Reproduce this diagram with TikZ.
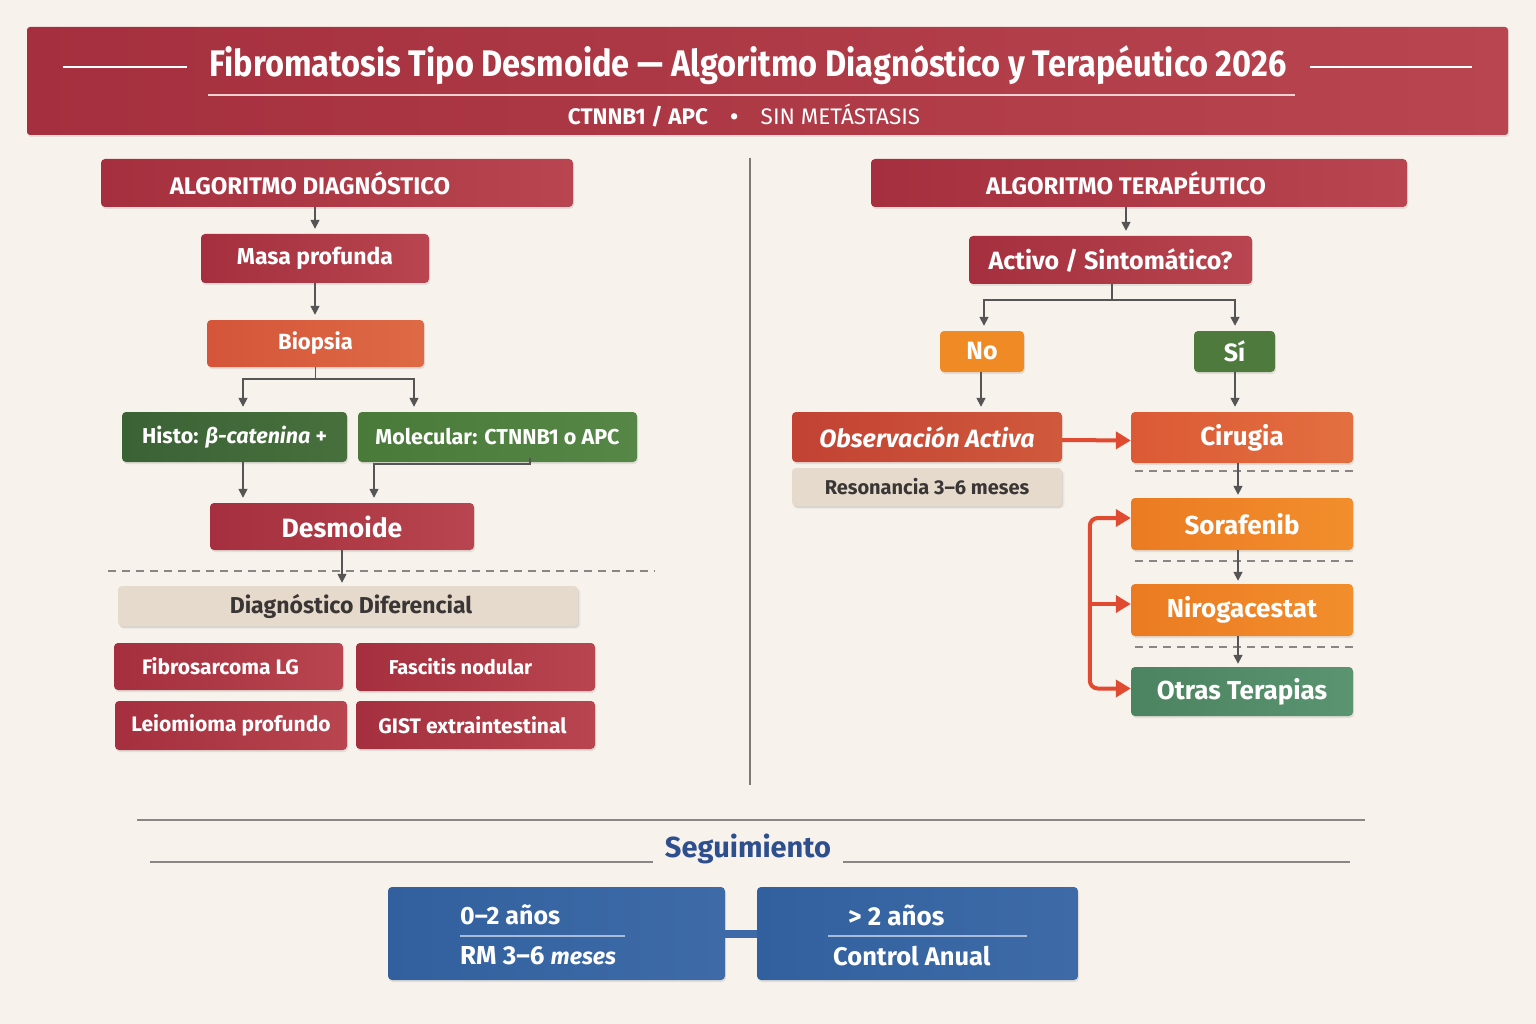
\documentclass[tikz,border=0pt]{standalone}
\usepackage{fontspec}
\setmainfont{Fira Sans}
\newfontfamily\condfont{Fira Sans}[FakeStretch=0.88]
\usetikzlibrary{arrows.meta,shadows}
\definecolor{bg}{HTML}{F8F2EC}
\definecolor{crimA}{HTML}{A52F3E}
\definecolor{crimB}{HTML}{B8454F}
\definecolor{biopA}{HTML}{D4553A}
\definecolor{biopB}{HTML}{DE6A45}
\definecolor{dgreenA}{HTML}{3B6235}
\definecolor{dgreenB}{HTML}{47703D}
\definecolor{greenA}{HTML}{4A7A3A}
\definecolor{greenB}{HTML}{568747}
\definecolor{obsA}{HTML}{C24233}
\definecolor{obsB}{HTML}{D0593C}
\definecolor{cirA}{HTML}{DB5A35}
\definecolor{cirB}{HTML}{E36F40}
\definecolor{orA}{HTML}{EB7B22}
\definecolor{orB}{HTML}{F28E2C}
\definecolor{noC}{HTML}{F08A24}
\definecolor{siC}{HTML}{4F7A3E}
\definecolor{otrA}{HTML}{4C8360}
\definecolor{otrB}{HTML}{5A9470}
\definecolor{beige}{HTML}{E5DACB}
\definecolor{blueA}{HTML}{32609E}
\definecolor{blueB}{HTML}{3E6BA8}
\definecolor{arrgray}{HTML}{555555}
\definecolor{redln}{HTML}{E04A30}
\definecolor{segblue}{HTML}{2E4F8E}
\definecolor{linegray}{HTML}{8A8686}
\definecolor{darktext}{HTML}{3A3636}
\begin{document}
\begin{tikzpicture}[x=1pt,y=-1pt,
  box/.style={rounded corners=4pt, text=white, inner sep=0pt,
    font=\bfseries\fontsize{22}{26}\selectfont,
    drop shadow={shadow xshift=1pt,shadow yshift=-2pt,opacity=0.18}},
  sz/.style 2 args={minimum width=#1pt, minimum height=#2pt},
  grad/.style 2 args={left color=#1, right color=#2},
  arr/.style={draw=arrgray, line width=1.6pt, -{Triangle[length=9pt,width=9pt]}, shorten >=5pt},
  redarr/.style={draw=redln, line width=4pt, -{Triangle[length=15pt,width=17pt]}},
  dashln/.style={draw=linegray, line width=1.2pt, dash pattern=on 8pt off 6pt},
  plain/.style={inner sep=0pt, text=white, font=\bfseries\fontsize{26}{30}\selectfont}
]
\useasboundingbox (0,0) rectangle (1536,1024);
\fill[bg] (0,0) rectangle (1536,1024);

% header band
\node[box, sz={1481}{108}, grad={crimA}{crimB}, rounded corners=3pt] (band) at (767.5,81) {};
\node[plain, font=\condfont\bfseries\fontsize{37}{40}\selectfont] (title) at (748,65) {Fibromatosis Tipo Desmoide — Algoritmo Diagnóstico y Terapéutico 2026};
\draw[white, line width=2.5pt] (63,67) -- (187,67);
\draw[white, line width=2.5pt] (1310,67) -- (1472,67);
\draw[white!75!crimB, line width=2pt] (208,95) -- (1295,95);
\node[plain, font=\fontsize{22.5}{26}\selectfont] (sub) at (744,116) {\textbf{CTNNB1 / APC}\quad \textbf{•}\quad SIN METÁSTASIS};

% divider
\draw[linegray!90!black, line width=1.5pt] (750,158) -- (750,785);

% ---------- left: diagnostic ----------
\node[box, sz={472}{48}, grad={crimA}{crimB}, font=\bfseries\fontsize{24}{26}\selectfont] (hdrL) at (337,183) {ALGORITMO DIAGNÓSTICO\hspace*{54pt}};
\node[box, sz={228}{49}, grad={crimA}{crimB}, font=\bfseries\fontsize{23}{26}\selectfont] (masa) at (315,258.5) {Masa profunda};
\node[box, sz={217}{47}, grad={biopA}{biopB}, font=\bfseries\fontsize{22}{26}\selectfont] (biop) at (315.5,343.5) {Biopsia};
\node[box, sz={225}{50}, grad={dgreenA}{dgreenB}, font=\bfseries\fontsize{21.5}{26}\selectfont] (histo) at (234.5,437) {Histo: \textit{β-catenina} +};
\node[box, sz={279}{50}, grad={greenA}{greenB}, font=\bfseries\fontsize{21.5}{26}\selectfont] (molec) at (497.5,437) {Molecular: CTNNB1 o APC};
\node[box, sz={264}{47}, grad={crimA}{crimB}, font=\bfseries\fontsize{26.5}{30}\selectfont] (desm) at (342,526.5) {Desmoide};
\node[box, sz={460}{40}, fill=beige, text=darktext, font=\bfseries\fontsize{23}{26}\selectfont, drop shadow={opacity=0.08}] (ddif) at (348,606) {Diagnóstico Diferencial\hspace*{-6pt}};
\node[box, sz={229}{47}, grad={crimA}{crimB}, font=\bfseries\fontsize{21}{24}\selectfont] (fib) at (228.5,666.5) {Fibrosarcoma LG\hspace*{16pt}};
\node[box, sz={239}{48}, grad={crimA}{crimB}, font=\bfseries\fontsize{20}{24}\selectfont] (fas) at (475.5,667) {Fascitis nodular\hspace*{30pt}};
\node[box, sz={232}{49}, grad={crimA}{crimB}, font=\bfseries\fontsize{21}{24}\selectfont] (leio) at (231,725.5) {Leiomioma profundo};
\node[box, sz={239}{48}, grad={crimA}{crimB}, font=\bfseries\fontsize{21}{24}\selectfont] (gist) at (475.5,725) {GIST extraintestinal\hspace*{6pt}};

\draw[arr] (masa.north |- hdrL.south) -- (masa.north);
\draw[arr] (masa.south) -- (masa.south |- biop.north);
\draw[arr] (biop.south) -- ++(0,12) -| ([xshift=8.5pt]histo.north);
\draw[arr] (biop.south) -- ++(0,12) -| ([xshift=-83.5pt]molec.north);
\draw[arr] ([xshift=8.5pt]histo.south) -- ([xshift=8.5pt]histo.south |- desm.north);
\draw[arr] ([xshift=32.5pt,yshift=4pt]molec.south) -- ++(0,6) -| ([xshift=32pt]desm.north);
\draw[dashln] (108,571) -- (655,571);
\draw[arr, shorten >=3pt] (desm.south) -- (desm.south |- ddif.north);

% ---------- right: therapeutic ----------
\node[box, sz={536}{48}, grad={crimA}{crimB}, font=\bfseries\fontsize{24}{26}\selectfont] (hdrR) at (1139,183) {ALGORITMO TERAPÉUTICO\hspace*{26pt}};
\node[box, sz={283}{48}, grad={crimA}{crimB}, font=\bfseries\fontsize{25}{28}\selectfont] (act) at (1110.5,260) {Activo / Sintomático?};
\node[box, sz={84}{41}, fill=noC, font=\bfseries\fontsize{25}{28}\selectfont] (no) at (982,351.5) {No};
\node[box, sz={81}{41}, fill=siC, font=\bfseries\fontsize{25}{28}\selectfont] (si) at (1234.5,351.5) {Sí};
\node[box, sz={270}{50}, grad={obsA}{obsB}, font=\bfseries\itshape\fontsize{25}{28}\selectfont] (obs) at (927,437) {Observación Activa};
\node[box, sz={270}{38}, fill=beige, text=darktext, font=\bfseries\fontsize{20}{24}\selectfont, drop shadow={opacity=0.08}] (res) at (927,487) {Resonancia 3–6 meses};
\node[box, sz={222}{51}, grad={cirA}{cirB}, font=\bfseries\fontsize{26}{28}\selectfont] (cir) at (1242,437.5) {Cirugia};
\node[box, sz={222}{52}, grad={orA}{orB}, font=\bfseries\fontsize{26}{28}\selectfont] (sor) at (1242,524) {Sorafenib};
\node[box, sz={222}{52}, grad={orA}{orB}, font=\bfseries\fontsize{26}{28}\selectfont] (nir) at (1242,610) {Nirogacestat};
\node[box, sz={222}{49}, grad={otrA}{otrB}, font=\bfseries\fontsize{26}{28}\selectfont] (otr) at (1242,691.5) {Otras Terapias};

\draw[arr] ([xshift=-13pt]hdrR.south) -- ([xshift=-13pt]hdrR.south |- act.north);
\draw[arr] ([xshift=1.5pt]act.south) -- ++(0,16) -| ([xshift=2pt]no.north);
\draw[arr] ([xshift=1.5pt]act.south) -- ++(0,16) -| ([xshift=0.5pt]si.north);
\draw[arr] ([xshift=-1pt]no.south) -- ([xshift=-1pt]no.south |- obs.north);
\draw[arr] ([xshift=0.5pt]si.south) -- ([xshift=0.5pt]si.south |- cir.north);
\draw[redarr] ([yshift=-3pt]obs.east) -- ([yshift=-3pt]cir.west);
\draw[dashln] (1135,471) -- (1353,471);
\draw[dashln] (1135,561) -- (1353,561);
\draw[dashln] (1135,647) -- (1353,647);
\draw[arr, shorten >=3pt] ([xshift=-4pt]cir.south) -- ([xshift=-4pt]cir.south |- sor.north);
\draw[arr, shorten >=3pt] ([xshift=-4pt]sor.south) -- ([xshift=-4pt]sor.south |- nir.north);
\draw[arr, shorten >=3pt] ([xshift=-4pt]nir.south) -- ([xshift=-4pt]nir.south |- otr.north);
\draw[redarr, rounded corners=8pt] ([xshift=-41pt,yshift=6pt]nir.west) |- ([yshift=6pt]sor.west);
\draw[redarr, rounded corners=8pt] ([xshift=-41pt,yshift=6pt]nir.west) |- ([yshift=3pt]otr.west);
\draw[redarr] ([xshift=-41pt,yshift=6pt]nir.west) -- ([yshift=6pt]nir.west);

% ---------- bottom: follow-up ----------
\draw[linegray, line width=1.6pt] (137,820) -- (1365,820);
\node[inner sep=0pt, text=segblue, font=\bfseries\fontsize{29}{34}\selectfont] (seg) at (748,849) {Seguimiento};
\draw[linegray, line width=1.2pt] (150,862) -- (653,862);
\draw[linegray, line width=1.2pt] (843,862) -- (1350,862);
\node[box, sz={337}{93}, grad={blueA}{blueB}] (b1) at (556.5,933.5) {};
\node[box, sz={321}{93}, grad={blueA}{blueB}] (b2) at (917.5,933.5) {};
\draw[blueB, line width=8pt] (b1.east) -- (b2.west);
\node[plain, anchor=west, font=\bfseries\fontsize{25}{30}\selectfont] (t1a) at (460,915) {0–2 años};
\node[plain, anchor=west] (t1b) at (460,956) {RM 3–6 \textit{\fontsize{23}{26}\selectfont meses}};
\draw[white!55!blueB, line width=1.5pt] (460,936) -- (625,936);
\node[plain, anchor=west] (t2a) at (848,915) {> 2 años};
\node[plain, anchor=west, font=\bfseries\fontsize{25.5}{30}\selectfont] (t2b) at (833,956) {Control Anual};
\draw[white!55!blueB, line width=1.5pt] (828,936) -- (1027,936);
\end{tikzpicture}
\end{document}
